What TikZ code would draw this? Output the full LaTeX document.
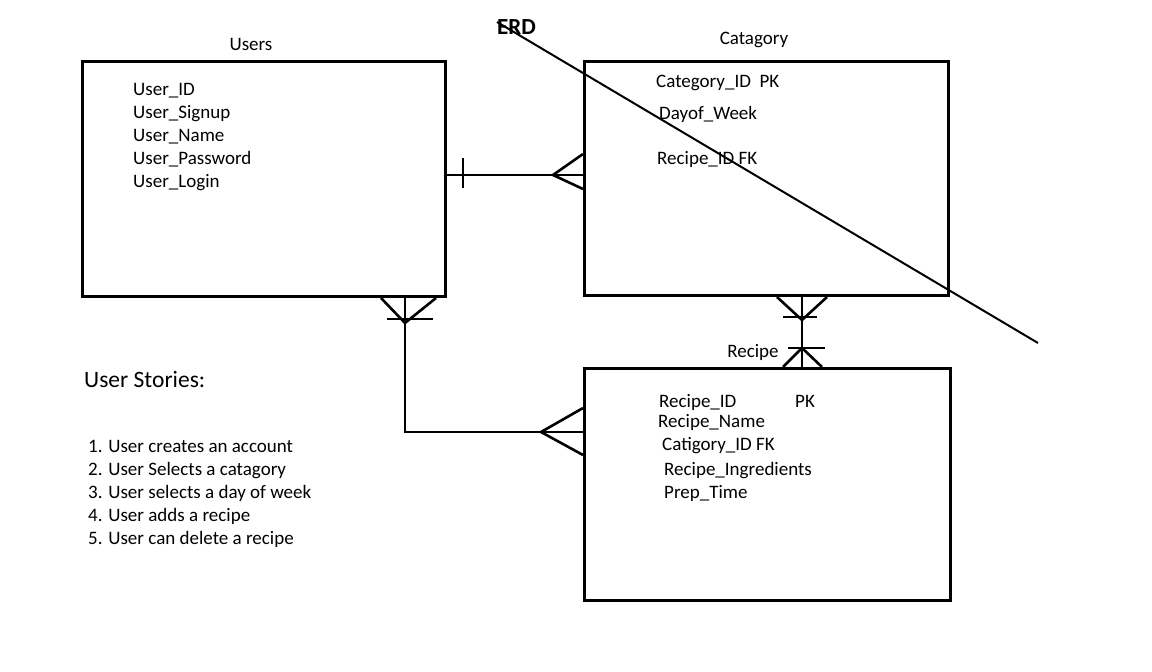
\documentclass[tikz,border=0pt]{standalone}
\usepackage{fontspec}
\setmainfont{Carlito}
\usetikzlibrary{calc}
\begin{document}
\begin{tikzpicture}[x=1pt,y=-1pt,
  entity/.style={draw, line width=3pt, rectangle, inner sep=0pt, anchor=north west},
  rel/.style={line width=2.6pt},
  attr/.style={anchor=base west, inner sep=0pt, font=\fontsize{19}{22}\selectfont},
  ttl/.style={anchor=base, inner sep=0pt, font=\fontsize{19}{22}\selectfont}]
\useasboundingbox (0,0) rectangle (1152,672);
\fill[white] (0,0) rectangle (1152,672);

% entity boxes
\node[entity, minimum width=363pt, minimum height=235pt] (users) at (81,60) {};
\node[entity, minimum width=364pt, minimum height=234pt] (cat) at (583,60) {};
\node[entity, minimum width=366pt, minimum height=232pt] (recipe) at (583,367) {};

% titles
\node[ttl] (tusers) at (251,50) {Users};
\node[ttl] (tcat) at (754,44) {Catagory};
\node[ttl] (trec) at (753,357) {Recipe};
\node[anchor=base west, inner sep=0pt, font=\fontsize{23}{26}\selectfont\bfseries] (erd) at (497,34) {ERD};

% Users attributes
\node[attr] (u1) at (133,95) {User\_ID};
\node[attr] (u2) at (133,118) {User\_Signup};
\node[attr] (u3) at (133,141) {User\_Name};
\node[attr] (u4) at (133,164) {User\_Password};
\node[attr] (u5) at (133,187) {User\_Login};

% Catagory attributes
\node[attr] (c1) at (656,87) {Category\_ID\ \ PK};
\node[attr] (c2) at (659,119) {Dayof\_Week};
\node[attr] (c3) at (657,164) {Recipe\_ID FK};

% Recipe attributes
\node[attr] (r1) at (659,407) {Recipe\_ID};
\node[attr] (r1k) at (795,407) {PK};
\node[attr] (r2) at (658,427) {Recipe\_Name};
\node[attr] (r3) at (662,450) {Catigory\_ID FK};
\node[attr] (r4) at (664,475) {Recipe\_Ingredients};
\node[attr] (r5) at (664,498) {Prep\_Time};

% user stories
\node[anchor=base west, inner sep=0pt, font=\fontsize{23.5}{26}\selectfont] (us) at (84,387) {User Stories:};
\node[attr] (s1) at (88,452) {1. User creates an account};
\node[attr] (s2) at (88,475) {2. User Selects a catagory};
\node[attr] (s3) at (88,498) {3. User selects a day of week};
\node[attr] (s4) at (88,521) {4. User adds a recipe};
\node[attr] (s5) at (88,544) {5. User can delete a recipe};

% helper coordinates for connector routing
\coordinate (uc) at (0,175);
\coordinate (ux) at (405,0);
\coordinate (ry) at (0,432);
\coordinate (cx) at (802,0);

% Users -- Catagory : one to many
\draw[rel] (users.east |- uc) -- (cat.west |- uc);
\draw[rel] ($(users.east |- uc)+(16,-17)$) -- ++(0,30);
\draw[rel] ($(cat.west |- uc)+(0,-21)$) -- ++(-30,21) -- ++(30,14);

% Users -- Recipe : many to many
\draw[rel] (users.south -| ux) |- (recipe.west |- ry);
\draw[rel] ($(users.south -| ux)+(-24,0)$) -- ++(24,25) -- ++(31,-25);
\draw[rel] ($(users.south -| ux)+(-18,21)$) -- ++(46,0);
\draw[rel] ($(recipe.west |- ry)+(0,-24)$) -- ++(-42,24) -- ++(42,23);

% Catagory -- Recipe
\draw[rel] (cat.south -| cx) -- (recipe.north -| cx);
\draw[rel] ($(cat.south -| cx)+(-25,0)$) -- ++(25,23) -- ++(25,-23);
\draw[rel] ($(cat.south -| cx)+(-19,20)$) -- ++(34,0);
\draw[rel] ($(recipe.north -| cx)+(-19,0)$) -- ++(19,-19) -- ++(20,19);
\draw[rel] ($(recipe.north -| cx)+(-14,-19)$) -- ++(37,0);

% strike-through line
\coordinate (d1) at (497,22);
\coordinate (d2) at (1038,343);
\draw[line width=2pt] (d1) -- (d2);
\end{tikzpicture}
\end{document}
